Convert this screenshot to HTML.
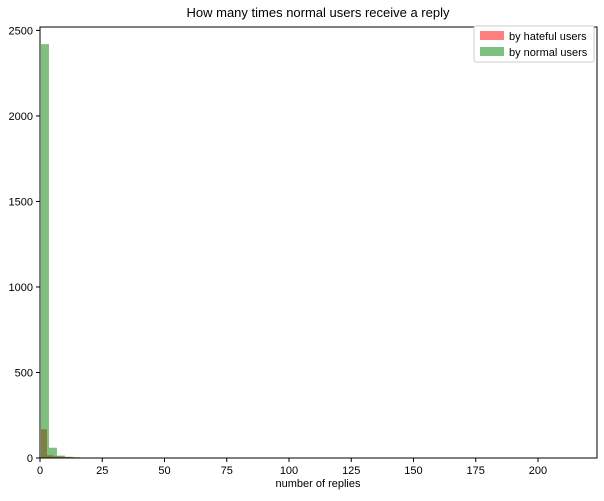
<!DOCTYPE html>
<html><head><meta charset="utf-8"><style>
body{margin:0;background:#fff;font-family:"Liberation Sans",sans-serif}
</style></head><body>
<svg id="chart" width="604" height="496" xmlns="http://www.w3.org/2000/svg" font-family="Liberation Sans, sans-serif">
<rect width="604" height="496" fill="#fff"/>
<text x="318" y="17" text-anchor="middle" font-size="13">How many times normal users receive a reply</text>
<g id="bars"></g>
<g id="axes"></g>
<g>
<rect x="474" y="26" width="120" height="36" fill="#fff" stroke="#ccc" rx="2"/>
<rect x="480" y="31" width="24" height="9" fill="#f00" fill-opacity="0.5"/>
<text x="509" y="40" font-size="11">by hateful users</text>
<rect x="480" y="47" width="24" height="9" fill="#008000" fill-opacity="0.5"/>
<text x="509" y="56" font-size="11">by normal users</text>
</g>
<text x="318" y="487" text-anchor="middle" font-size="11">number of replies</text>
</svg>
<script>
const normalStart = 0.4, normalWidth = 3.2;
const normalCounts = [2420, 60, 14, 7, 4, 2, 1, 1, 1];
const hatefulStart = 0.4, hatefulWidth = 2.4;
const hatefulCounts = [168, 16, 10, 8, 6, 4, 3, 2, 2, 1, 1];
const xTicks = [0, 25, 50, 75, 100, 125, 150, 175, 200];
const yTicks = [0, 500, 1000, 1500, 2000, 2500];
const L=40,R=597,T=27,B=458, xMax=223.7, yMax=2520;
const sx=v=>L+(v/xMax)*(R-L), sy=v=>B-(v/yMax)*(B-T);
const NS="http://www.w3.org/2000/svg";
const bars=document.getElementById('bars'), axes=document.getElementById('axes');
function mk(t,a,p){const e=document.createElementNS(NS,t);for(const k in a)e.setAttribute(k,a[k]);p.appendChild(e);return e;}
hatefulCounts.forEach((c,i)=>{const x0=sx(hatefulStart+i*hatefulWidth),x1=sx(hatefulStart+(i+1)*hatefulWidth);
const r=mk('rect',{x:x0,y:sy(c),width:x1-x0,height:B-sy(c),fill:'#f00','fill-opacity':0.5},bars);

});
normalCounts.forEach((c,i)=>{const x0=sx(normalStart+i*normalWidth),x1=sx(normalStart+(i+1)*normalWidth);
const r=mk('rect',{x:x0,y:sy(c),width:x1-x0,height:B-sy(c),fill:'#008000','fill-opacity':0.5},bars);

});
const fr=mk('rect',{x:L,y:T,width:R-L,height:B-T,fill:'none',stroke:'#000','stroke-width':1},axes);


xTicks.forEach(v=>{const x=sx(v);mk('line',{x1:x,x2:x,y1:B,y2:B+4,stroke:'#000'},axes);
const t=mk('text',{x:x,y:B+16,'text-anchor':'middle','font-size':11},axes);t.textContent=v;

});
yTicks.forEach(v=>{const y=sy(v);mk('line',{x1:L-4,x2:L,y1:y,y2:y,stroke:'#000'},axes);
const t=mk('text',{x:L-7,y:y+4,'text-anchor':'end','font-size':11},axes);t.textContent=v;

});
</script>
</body></html>
